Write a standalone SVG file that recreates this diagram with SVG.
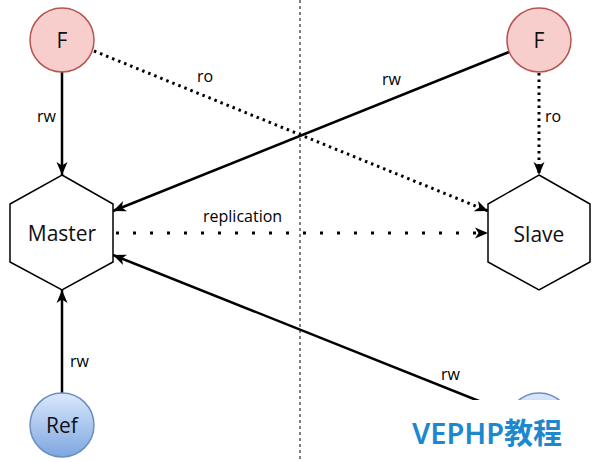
<svg xmlns="http://www.w3.org/2000/svg" width="600" height="462" viewBox="0 0 600 462">
<style>
.lbl{font-family:"Open Sans","Noto Sans",sans-serif;font-size:16px;fill:#000}
.node-txt{font-family:"Open Sans","Noto Sans",sans-serif;fill:#111;text-anchor:middle}
.solid{stroke:#000;stroke-width:2.5;fill:none}
.dot{stroke:#000;stroke-width:3;fill:none;stroke-dasharray:2.5 4}
.dot2{stroke:#000;stroke-width:3;fill:none;stroke-dasharray:3 14}
.hex{fill:#fff;stroke:#000;stroke-width:1.5}
.fc{fill:#f8cecc;stroke:#b85450;stroke-width:1.5}
.bc{fill:url(#blue);stroke:#6c8ebf;stroke-width:1.5}
</style>
<defs>
<linearGradient id="blue" x1="0" y1="0" x2="0" y2="1">
<stop offset="0" stop-color="#dae8fc"/>
<stop offset="1" stop-color="#7ea6e0"/>
</linearGradient>
<marker id="arr" markerUnits="userSpaceOnUse" markerWidth="14" markerHeight="12" refX="13" refY="5.5" orient="auto" viewBox="0 0 14 11">
<path d="M0,0 L13,5.5 L0,11 L3.5,5.5 z" fill="#000"/>
</marker>
</defs>
<rect width="600" height="462" fill="#fff"/>
<line x1="300" y1="0" x2="300" y2="462" stroke="#000" stroke-width="1" stroke-dasharray="3 3"/>
<g id="connectors">
<line class="solid" x1="62" y1="72" x2="62" y2="175" marker-end="url(#arr)"/>
<line class="dot" x1="94" y1="51" x2="488" y2="211" marker-end="url(#arr)"/>
<line class="solid" x1="509" y1="52" x2="113" y2="211" marker-end="url(#arr)"/>
<line class="dot" x1="539" y1="73" x2="539" y2="175" marker-end="url(#arr)"/>
<line class="dot2" x1="116" y1="233" x2="488" y2="233" marker-end="url(#arr)"/>
<line class="solid" x1="62" y1="393" x2="62" y2="290" marker-end="url(#arr)"/>
<line class="solid" x1="509" y1="413" x2="113" y2="255" marker-end="url(#arr)"/>
<text class="lbl" x="37" y="122">rw</text>
<text class="lbl" x="197" y="82">ro</text>
<text class="lbl" x="382" y="85">rw</text>
<text class="lbl" x="545" y="122">ro</text>
<text class="lbl" x="203" y="222">replication</text>
<text class="lbl" x="70" y="367">rw</text>
<text class="lbl" x="441" y="380">rw</text>
</g>
<g id="f-left">
<circle class="fc" cx="62" cy="40" r="32"/>
<text class="node-txt" x="62" y="48" font-size="21">F</text>
</g>
<g id="f-right">
<circle class="fc" cx="539" cy="40" r="32"/>
<text class="node-txt" x="539" y="48" font-size="21">F</text>
</g>
<g id="master">
<polygon class="hex" points="62,175 113,204 113,262 62,290 10,262 10,204"/>
<text class="node-txt" x="62" y="241" font-size="21">Master</text>
</g>
<g id="slave">
<polygon class="hex" points="539,175 590,204 590,262 539,290 488,262 488,204"/>
<text class="node-txt" x="539" y="242" font-size="21">Slave</text>
</g>
<g id="ref">
<circle class="bc" cx="62" cy="425" r="32"/>
<text class="node-txt" x="62" y="433" font-size="21">Ref</text>
</g>
<g id="ref2">
<circle class="bc" cx="539" cy="425" r="32"/>
</g>
<g id="watermark">
<rect x="404" y="400" width="196" height="62" fill="#fff"/>
<text x="412" y="444" font-family="Noto Sans,'Noto Sans CJK SC',sans-serif" font-size="29" font-weight="600" fill="#1e88cf">VEPHP教程</text>
</g>
</svg>
